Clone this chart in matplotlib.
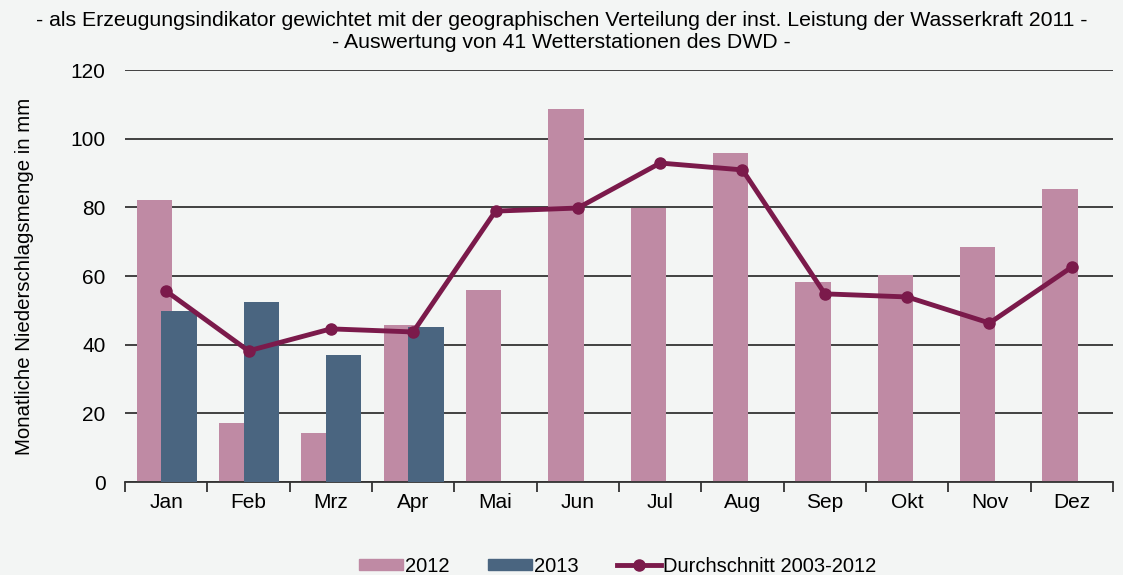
import numpy as np
import matplotlib
matplotlib.use('Agg')
import matplotlib.pyplot as plt
from matplotlib.lines import Line2D
from matplotlib.patches import Patch

months = ["Jan", "Feb", "Mrz", "Apr", "Mai", "Jun", "Jul", "Aug", "Sep", "Okt", "Nov", "Dez"]
rain_2012 = [82.1, 17.2, 14.3, 45.7, 55.9, 108.6, 79.8, 95.8, 58.3, 60.3, 68.4, 85.3]
rain_2013 = [49.8, 52.4, 37.0, 45.1]
avg_2003_2012 = [55.6, 38.2, 44.6, 43.7, 78.9, 79.8, 92.9, 90.9, 54.8, 53.9, 46.3, 62.6]

bg = "#f3f5f4"
c2012 = "#bf8aa4"
c2013 = "#4a6580"
cavg = "#7b1a4b"

plt.rcParams['font.family'] = ['Liberation Sans', 'DejaVu Sans']

fig = plt.figure(figsize=(11.23, 5.75), dpi=100, facecolor=bg)
ax = fig.add_axes([125/1123, 1 - 482/575, 988/1123, 412/575])
ax.set_facecolor(bg)

x = np.arange(len(months))
w = 0.43
ax.set_axisbelow(True)
ax.yaxis.grid(True, color="#333333", linewidth=1.3)
ax.bar(x - 0.145, rain_2012, width=w, color=c2012, zorder=2)
ax.bar(x[:len(rain_2013)] + 0.155, rain_2013, width=w, color=c2013, zorder=3)
ax.plot(x, avg_2003_2012, color=cavg, linewidth=3.5, marker="o", markersize=8, zorder=4)

ax.set_xlim(-0.5, 11.5)
ax.set_ylim(0, 120)
ax.set_yticks(np.arange(0, 121, 20))
ax.set_xticks(x)
ax.set_xticklabels(months)
ax.set_xticks(np.arange(-0.5, 12, 1), minor=True)
ax.tick_params(axis="x", which="major", length=0, pad=8, labelsize=15)
ax.tick_params(axis="x", which="minor", length=7, width=1.3, color="#333333")
ax.tick_params(axis="y", length=0, pad=14, labelsize=15)
for s in ["top", "right", "left"]:
    ax.spines[s].set_visible(False)
ax.spines["bottom"].set_color("#333333")
ax.spines["bottom"].set_linewidth(1.3)
ax.set_ylabel("Monatliche Niederschlagsmenge in mm", fontsize=14.7, labelpad=26)

fig.text(0.5, 1 - 20/575, "- als Erzeugungsindikator gewichtet mit der geographischen Verteilung der inst. Leistung der Wasserkraft 2011 -",
         ha="center", va="center", fontsize=15.3)
fig.text(0.5, 1 - 43/575, "- Auswertung von 41 Wetterstationen des DWD -",
         ha="center", va="center", fontsize=15.3)

handles = [Patch(color=c2012), Patch(color=c2013),
           Line2D([0], [0], color=cavg, linewidth=3.5, marker="o", markersize=8)]
leg = fig.legend(handles, ["2012", "2013", "Durchschnitt 2003-2012"], loc="center",
                 bbox_to_anchor=(0.55, 1 - 566/575), ncol=3, frameon=False, fontsize=14.5,
                 handlelength=2.2, handleheight=0.45, handletextpad=0.1, columnspacing=1.9)

fig.savefig("out.png", dpi=100, facecolor=bg)
